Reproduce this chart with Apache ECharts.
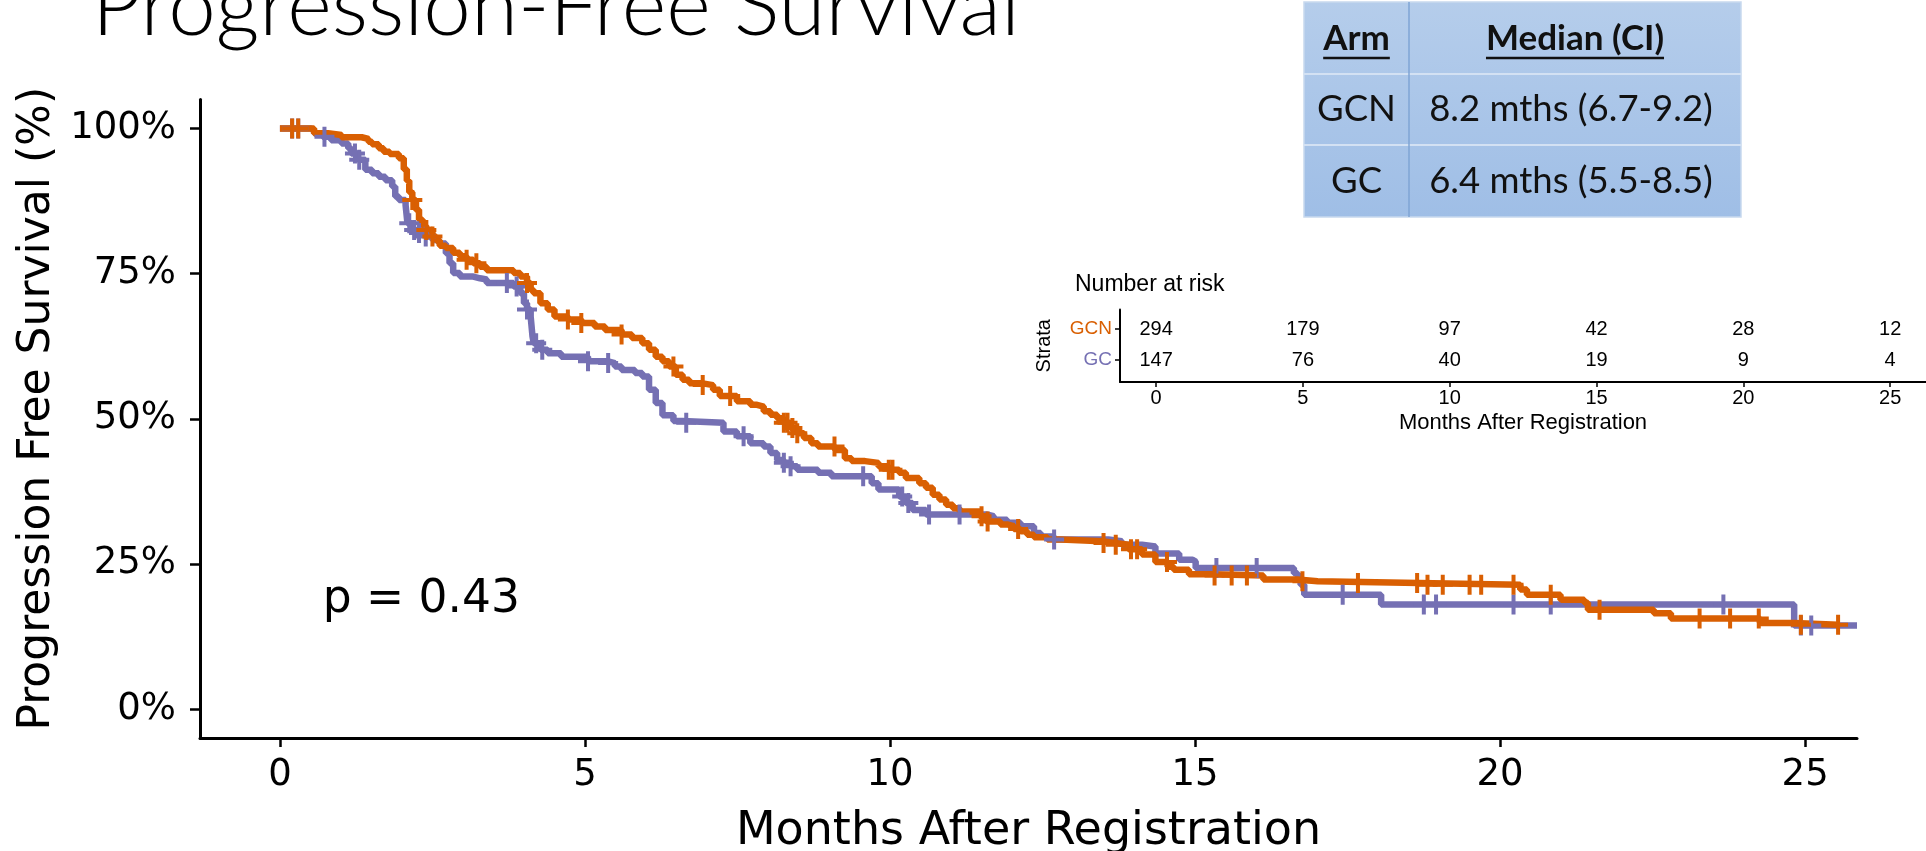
<!DOCTYPE html>
<html>
<head>
<meta charset="utf-8">
<script src="https://cdn.jsdelivr.net/npm/echarts@6/dist/echarts.min.js"></script>
<style>
html,body{margin:0;padding:0;background:#ffffff;}
#c{width:1926px;height:851px;}
</style>
</head>
<body>
<div id="c"></div>
<script>
// ---------------- data ----------------
const slideTitle = 'Progression-Free Survival';
const armNames = ['GCN', 'GC'];
const tableHeader = ['Arm', 'Median (CI)'];
const tableMedians = ['8.2 mths (6.7-9.2)', '6.4 mths (5.5-8.5)'];
const pValueText = 'p = 0.43';
const xTicks = [0, 5, 10, 15, 20, 25];
const yTicks = [0, 25, 50, 75, 100];

// GCN arm: step times (months) and survival (%)
const gcnTime = [0, 0.56, 0.79, 1.01, 1.34, 1.45, 1.51, 1.62, 1.70, 1.80, 1.95, 2.03, 2.08, 2.12, 2.17, 2.23, 2.28, 2.34, 2.40, 2.50, 2.56, 2.62, 2.72, 2.84, 2.95, 3.06, 3.17, 3.28, 3.39, 3.83, 3.94, 4.05, 4.11, 4.16, 4.27, 4.39, 4.50, 4.72, 4.94, 5.16, 5.33, 5.60, 5.77, 5.94, 6.05, 6.16, 6.27, 6.38, 6.49, 6.60, 6.71, 6.93, 7.10, 7.21, 7.49, 7.71, 7.82, 7.93, 8.04, 8.15, 8.26, 8.37, 8.48, 8.59, 8.71, 8.82, 9.10, 9.26, 9.37, 9.59, 9.81, 9.98, 10.15, 10.26, 10.48, 10.59, 10.70, 10.81, 10.92, 11.03, 11.14, 11.47, 11.58, 11.81, 11.92, 12.03, 12.14, 12.25, 12.36, 12.58, 12.80, 13.47, 13.69, 13.91, 14.13, 14.35, 14.55, 14.65, 14.90, 15.29, 16.12, 16.68, 17.01, 18.67, 20.33, 20.44, 20.99, 21.38, 21.44, 22.52, 22.80, 24.26, 24.82, 25.54];
const gcnSurv = [100, 99.2, 98.9, 98.5, 98.2, 97.7, 97.3, 96.6, 96.0, 95.6, 94.9, 93.0, 91.0, 89.0, 87.7, 86.0, 84.3, 83.2, 82.5, 81.4, 80.7, 79.8, 79.4, 78.6, 78.0, 77.4, 76.8, 76.2, 75.6, 75.1, 74.5, 73.4, 72.2, 71.6, 69.9, 68.8, 67.6, 67.1, 66.5, 65.9, 65.3, 64.5, 63.9, 63.0, 61.9, 60.7, 59.9, 59.0, 57.6, 56.7, 56.1, 55.8, 55.0, 53.9, 53.0, 52.4, 52.1, 51.3, 50.7, 50.1, 49.3, 48.4, 47.5, 46.7, 45.8, 45.2, 44.6, 43.2, 42.7, 42.4, 41.8, 41.2, 40.7, 39.8, 38.9, 38.1, 36.9, 36.1, 35.2, 34.6, 34.0, 33.2, 32.3, 31.8, 31.5, 31.0, 30.6, 30.0, 29.6, 29.2, 28.9, 28.6, 28.3, 27.5, 26.6, 25.3, 24.5, 24.0, 23.2, 23.0, 22.3, 22.0, 21.7, 21.4, 20.6, 19.7, 18.8, 18.3, 17.1, 16.5, 15.6, 14.8, 14.5, 14.5];
const gcnCensor = [0.2, 0.3, 2.17, 2.4, 2.5, 3.06, 3.22, 4.05, 4.72, 4.94, 5.6, 6.45, 6.93, 7.38, 8.26, 8.32, 8.40, 8.48, 9.09, 9.98, 10.04, 11.5, 11.6, 12.1, 13.5, 13.7, 13.95, 14.05, 14.54, 15.32, 15.6, 15.85, 16.76, 17.67, 18.64, 18.81, 19.06, 19.5, 19.69, 20.22, 20.83, 21.63, 23.27, 23.77, 24.24, 24.93, 25.54];

// GC arm
const gcTime = [0, 0.51, 0.56, 0.70, 0.84, 1.01, 1.12, 1.17, 1.28, 1.40, 1.51, 1.62, 1.73, 1.84, 1.89, 1.95, 2.06, 2.09, 2.17, 2.28, 2.39, 2.50, 2.61, 2.72, 2.78, 2.84, 2.95, 3.17, 3.28, 3.39, 3.83, 3.94, 4.00, 4.05, 4.11, 4.14, 4.16, 4.27, 4.39, 4.61, 5.05, 5.38, 5.49, 5.60, 5.82, 5.94, 6.05, 6.16, 6.27, 6.45, 6.60, 7.27, 7.49, 7.71, 7.93, 8.04, 8.15, 8.26, 8.37, 8.48, 8.82, 9.04, 9.70, 9.81, 10.15, 10.26, 10.37, 10.59, 11.58, 11.70, 11.92, 12.14, 12.36, 12.47, 12.69, 13.58, 13.80, 14.13, 14.35, 14.74, 14.96, 15.01, 16.62, 16.68, 16.73, 16.79, 18.05, 24.82, 25.85];
const gcSurv = [100, 99.7, 99.2, 98.6, 98.0, 97.4, 96.6, 95.7, 94.6, 92.9, 92.3, 91.7, 91.1, 90.0, 88.3, 87.7, 86.8, 83.7, 82.5, 82.0, 81.4, 80.8, 80.2, 78.5, 76.8, 75.1, 74.5, 74.2, 74.0, 73.4, 72.8, 71.6, 69.9, 68.8, 67.6, 64.2, 63.0, 61.9, 61.3, 60.7, 59.9, 59.6, 59.0, 58.4, 57.9, 57.3, 55.0, 52.7, 50.6, 49.6, 49.3, 47.8, 47.0, 45.8, 45.2, 44.1, 42.9, 42.4, 41.8, 41.2, 40.7, 40.1, 38.9, 37.8, 36.6, 35.5, 34.3, 33.5, 33.2, 32.6, 32.1, 31.5, 30.3, 29.7, 29.2, 28.9, 28.3, 28.0, 26.8, 25.7, 25.4, 24.3, 23.4, 22.9, 21.4, 19.7, 18.0, 14.4, 14.4];
const gcCensor = [0.2, 0.3, 0.73, 1.23, 1.3, 2.12, 2.2, 2.28, 2.39, 3.72, 3.88, 4.05, 4.2, 4.3, 5.05, 5.38, 6.66, 7.6, 8.26, 8.37, 9.56, 10.2, 10.3, 10.64, 11.14, 12.69, 15.35, 16.01, 17.42, 18.75, 18.95, 20.22, 20.83, 23.66, 24.93, 25.1];

// Number at risk table
const riskTimes = [0, 5, 10, 15, 20, 25];
const gcnRisk = [294, 179, 97, 42, 28, 12];
const gcRisk = [147, 76, 40, 19, 9, 4];
const riskRows = [2, 1]; // row positions of GCN, GC in the risk table

// ---------------- helpers ----------------
const ORANGE = '#D95F02';
const PURPLE = '#7570B3';
const FONT = '"DejaVu Sans", sans-serif';
const RFONT = '"Liberation Sans", Arial, sans-serif';
const TFONT = 'Lato, "Open Sans", sans-serif';
const PLUS = 'path://M8,0H12V8H20V12H12V20H8V12H0V8H8Z';

function pairs(t, s) { return t.map((v, i) => [v, s[i]]); }
function survAt(t, s, x) {
  let v = s[0];
  for (let i = 0; i < t.length; i++) { if (t[i] <= x) v = s[i]; else break; }
  return v;
}
const mctx = document.createElement('canvas').getContext('2d');
function textWidth(str, font) { mctx.font = font; return mctx.measureText(str).width; }

// ---------------- slide title & median table (graphics) ----------------
const titleTargetW = 928;
const titleSize = 100 * titleTargetW / textWidth(slideTitle, '300 100px Lato');
const graphics = [];
graphics.push({
  type: 'text', x: 92, y: 41 - 0.387 * titleSize,
  style: { text: slideTitle, fontFamily: TFONT, fontWeight: 300, fontSize: titleSize, fill: '#000',
           align: 'left', verticalAlign: 'middle' }
});

const tX = 1304, tW = 437, cX = 1409, rowsY = [2, 74, 145, 217];
const tblGrad = new echarts.graphic.LinearGradient(0, 0, 0, 1, [
  { offset: 0, color: '#b5cdeb' }, { offset: 1, color: '#9fbee6' }
]);
graphics.push({ type: 'rect', shape: { x: tX, y: rowsY[0], width: tW, height: rowsY[3] - rowsY[0] },
  style: { fill: tblGrad, stroke: '#c8d9ee', lineWidth: 1.5 } });
for (let r = 1; r < 3; r++) {
  graphics.push({ type: 'line', shape: { x1: tX, y1: rowsY[r], x2: tX + tW, y2: rowsY[r] },
    style: { stroke: '#d3e1f3', lineWidth: 2 } });
}
graphics.push({ type: 'line', shape: { x1: cX, y1: rowsY[0], x2: cX, y2: rowsY[3] },
  style: { stroke: '#7fa4d4', lineWidth: 1.5 } });
const col1C = (tX + cX) / 2, col2C = (cX + tX + tW) / 2;
const hSize = 35, tSize = 36.5;
const hBase = 52.5;
[col1C, col2C].forEach((cx, i) => {
  const txt = tableHeader[i];
  graphics.push({ type: 'text', x: cx, y: hBase - 0.387 * hSize,
    style: { text: txt, fontFamily: TFONT, fontWeight: 'bold', fontSize: hSize, fill: '#111',
             align: 'center', verticalAlign: 'middle' } });
  const w = textWidth(txt, 'bold ' + hSize + 'px Lato');
  graphics.push({ type: 'line', shape: { x1: cx - w / 2, y1: hBase + 5.5, x2: cx + w / 2, y2: hBase + 5.5 },
    style: { stroke: '#111', lineWidth: 2.5 } });
});
armNames.forEach((arm, i) => {
  const cy = (rowsY[i + 1] + rowsY[i + 2]) / 2;
  graphics.push({ type: 'text', x: col1C, y: cy,
    style: { text: arm, fontFamily: TFONT, fontSize: tSize, fill: '#111', align: 'center', verticalAlign: 'middle' } });
  graphics.push({ type: 'text', x: col2C - 4, y: cy,
    style: { text: tableMedians[i], fontFamily: TFONT, fontSize: tSize, fill: '#111', align: 'center', verticalAlign: 'middle' } });
});
graphics.push({ type: 'text', x: 1075, y: 285,
  style: { text: 'Number at risk', fontFamily: RFONT, fontSize: 23, fill: '#000', align: 'left', verticalAlign: 'middle' } });

// ---------------- chart ----------------
const chart = echarts.init(document.getElementById('c'), null, { renderer: 'canvas' });
const labelItem = { color: '#000', opacity: 1 };
function rowName(v) { const i = riskRows.indexOf(Number(v)); return i >= 0 ? armNames[i] : ''; }
function riskSeries(i, counts) {
  return {
    name: 'risk ' + armNames[i], type: 'scatter', xAxisIndex: 1, yAxisIndex: 1, symbolSize: 0,
    data: riskTimes.map((t, k) => [t, riskRows[i], counts[k]]), itemStyle: labelItem,
    label: { show: true, position: 'inside', formatter: p => String(p.value[2]), color: '#000', fontSize: 20, fontFamily: RFONT },
    silent: true
  };
}
const option = {
  animation: false,
  backgroundColor: '#ffffff',
  textStyle: { fontFamily: FONT },
  grid: [
    { left: 200, right: 69, top: 99.5, bottom: 113, outerBoundsMode: 'none', containLabel: false },
    { left: 1120, right: 0, top: 309.5, bottom: 469, outerBoundsMode: 'none', containLabel: false }
  ],
  xAxis: [
    {
      gridIndex: 0, type: 'value', min: -1.31, max: 25.85,
      axisLine: { onZero: false, lineStyle: { color: '#000', width: 3 } },
      axisTick: { customValues: xTicks, length: 9, lineStyle: { color: '#000', width: 2.5 } },
      axisLabel: { customValues: xTicks, color: '#000', fontSize: 37, fontFamily: FONT, margin: 19 },
      splitLine: { show: false },
      name: 'Months After Registration', nameLocation: 'middle', nameGap: 71,
      nameTextStyle: { color: '#000', fontSize: 46, fontFamily: FONT }
    },
    {
      gridIndex: 1, type: 'value', min: -1.23, max: 26.22,
      axisLine: { onZero: false, lineStyle: { color: '#000', width: 2 } },
      axisTick: { customValues: riskTimes, length: 5, lineStyle: { color: '#000', width: 1.5 } },
      axisLabel: { customValues: riskTimes, color: '#000', fontSize: 20, fontFamily: RFONT, margin: 6 },
      splitLine: { show: false },
      name: 'Months After Registration', nameLocation: 'middle', nameGap: 30,
      nameTextStyle: { color: '#000', fontSize: 22, fontFamily: RFONT }
    }
  ],
  yAxis: [
    {
      gridIndex: 0, type: 'value', min: -5, max: 105,
      axisLine: { show: true, onZero: false, lineStyle: { color: '#000', width: 3 } },
      axisTick: { show: true, customValues: yTicks, length: 10, lineStyle: { color: '#000', width: 2.5 } },
      axisLabel: { customValues: yTicks, formatter: '{value}%', color: '#000', fontSize: 37, fontFamily: FONT, margin: 24 },
      splitLine: { show: false },
      name: 'Progression Free Survival (%)', nameLocation: 'middle', nameGap: 140,
      nameTextStyle: { color: '#000', fontSize: 44, fontFamily: FONT, padding: [0, 0, 0, 20] }
    },
    {
      gridIndex: 1, type: 'value', min: 0.29, max: 2.63,
      axisLine: { show: true, onZero: false, lineStyle: { color: '#000', width: 2 } },
      axisTick: { show: true, customValues: riskRows, length: 5, lineStyle: { color: '#000', width: 1.5 } },
      axisLabel: { customValues: riskRows, formatter: v => rowName(v), fontSize: 19, fontFamily: RFONT, margin: 8,
                   color: (v) => (rowName(v) === armNames[0] ? ORANGE : PURPLE) },
      splitLine: { show: false },
      name: 'Strata', nameLocation: 'middle', nameGap: 66, nameRotate: 90,
      nameTextStyle: { color: '#000', fontSize: 20, fontFamily: RFONT }
    }
  ],
  graphic: { elements: graphics },
  series: [
    { name: 'GC', type: 'line', step: 'end', data: pairs(gcTime, gcSurv), showSymbol: false,
      lineStyle: { color: PURPLE, width: 6.5 }, itemStyle: { color: PURPLE }, z: 2, silent: true },
    { name: 'GCN', type: 'line', step: 'end', data: pairs(gcnTime, gcnSurv), showSymbol: false,
      lineStyle: { color: ORANGE, width: 6.5 }, itemStyle: { color: ORANGE }, z: 3, silent: true },
    { name: 'GC censor', type: 'scatter', symbol: PLUS, symbolSize: 20,
      data: gcCensor.map(t => [t, survAt(gcTime, gcSurv, t)]), itemStyle: { color: PURPLE, opacity: 1 }, z: 4, silent: true },
    { name: 'GCN censor', type: 'scatter', symbol: PLUS, symbolSize: 20,
      data: gcnCensor.map(t => [t, survAt(gcnTime, gcnSurv, t)]), itemStyle: { color: ORANGE, opacity: 1 }, z: 5, silent: true },
    { name: 'pval', type: 'scatter', symbolSize: 0, data: [[0.70, 18.8]], itemStyle: labelItem,
      label: { show: true, position: 'right', distance: 0, formatter: pValueText, color: '#000', fontSize: 45.5, fontFamily: FONT },
      silent: true, z: 6 },
    riskSeries(0, gcnRisk),
    riskSeries(1, gcRisk)
  ]
};
chart.setOption(option);
</script>
</body>
</html>
